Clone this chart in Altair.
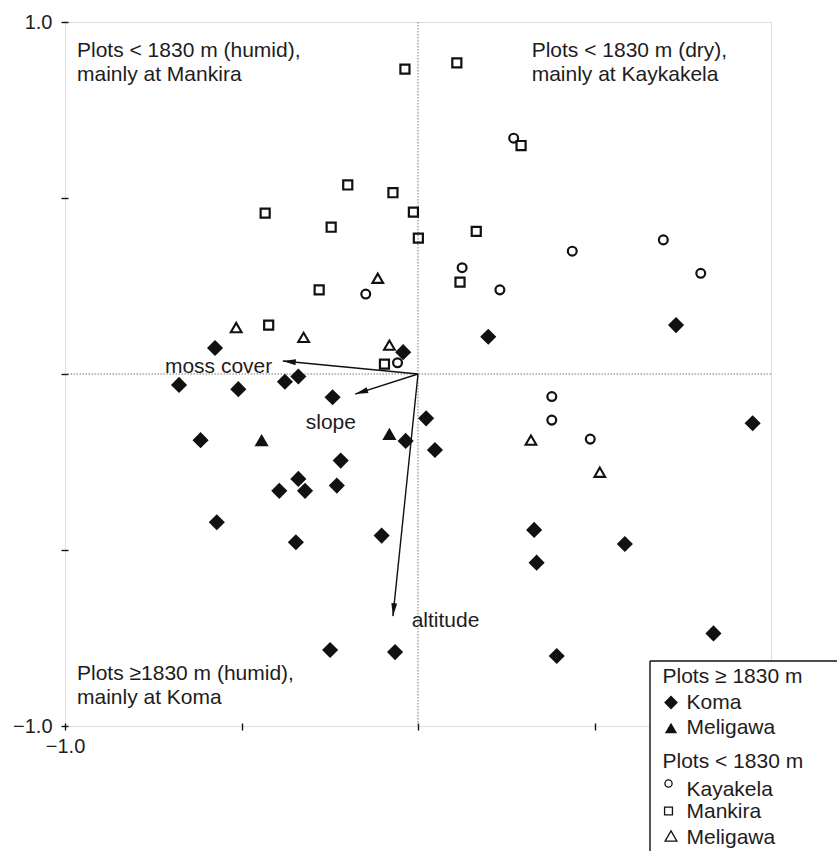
import math
import altair as alt
import pandas as pd

# ---------------- data ----------------
# Plots >= 1830 m : Koma (filled diamonds)
koma_x = [-0.575, -0.042, 0.199, 0.731, -0.677, -0.509, -0.377, -0.339, -0.242, -0.616,
          -0.035, -0.219, -0.339, -0.393, -0.320, -0.230, -0.570, -0.346, -0.103, -0.249,
          -0.065, 0.023, 0.048, 0.948, 0.329, 0.586, 0.336, 0.837, 0.393]
koma_y = [0.074, 0.062, 0.106, 0.139, -0.031, -0.043, -0.022, -0.007, -0.066, -0.188,
          -0.190, -0.246, -0.298, -0.332, -0.332, -0.317, -0.421, -0.478, -0.459, -0.784,
          -0.790, -0.126, -0.216, -0.140, -0.443, -0.483, -0.536, -0.737, -0.801]
# Plots >= 1830 m : Meligawa (filled triangles)
meli_hi_x = [-0.443, -0.081]
meli_hi_y = [-0.188, -0.170]
# Plots < 1830 m : Kayakela (open circles)
kaya_x = [0.271, -0.148, -0.058, 0.125, 0.232, 0.437, 0.695, 0.801, 0.379, 0.379, 0.488]
kaya_y = [0.670, 0.227, 0.032, 0.302, 0.239, 0.349, 0.381, 0.286, -0.064, -0.131, -0.185]
# Plots < 1830 m : Mankira (open squares)
mank_x = [-0.037, 0.110, -0.199, -0.071, -0.013, -0.433, -0.246, 0.001, 0.165, 0.292,
          -0.280, 0.119, -0.423, -0.095]
mank_y = [0.866, 0.884, 0.537, 0.515, 0.460, 0.457, 0.417, 0.386, 0.405, 0.649,
          0.239, 0.261, 0.139, 0.028]
# Plots < 1830 m : Meligawa (open triangles)
meli_lo_x = [-0.114, -0.515, -0.324, -0.081, 0.320, 0.515]
meli_lo_y = [0.272, 0.132, 0.104, 0.082, -0.188, -0.279]

# environmental vectors
vec_names = ["moss cover", "slope", "altitude"]
vec_x = [-0.383, -0.178, -0.071]
vec_y = [0.037, -0.057, -0.688]

# axis ticks
tick_values = [-1.0, -0.5, 0.0, 0.5, 1.0]

# quadrant notes
quad_texts = ["Plots < 1830 m (humid),\nmainly at Mankira",
              "Plots < 1830 m (dry),\nmainly at Kaykakela",
              "Plots \u22651830 m (humid),\nmainly at Koma"]

# legend texts
legend_heads = ["Plots \u2265 1830 m", "Plots < 1830 m"]
legend_items = ["Koma", "Meligawa", "Kayakela", "Mankira", "Meligawa"]

# ---------------- layout / style ----------------
W, H = 706, 704
INK = "#111111"
TXT = "#1e1c1d"
FONT = "Liberation Sans"
FS = 21
AFS = 20

sx = alt.Scale(domain=[-1, 1], nice=False, zero=False)
sy = alt.Scale(domain=[-1, 1], nice=False, zero=False)
ax_x = alt.Axis(values=tick_values, format=".1f",
                labelExpr="datum.value == -1 ? datum.label : ''",
                domain=False, offset=-3, tickSize=7, tickWidth=1.4, tickColor=INK,
                labelFontSize=AFS, labelColor=TXT, labelFont=FONT, labelPadding=6,
                labelFlush=False, labelOverlap=False, grid=False, title=None)
ax_y = alt.Axis(values=tick_values, format=".1f",
                labelExpr="abs(datum.value) == 1 ? datum.label : ''",
                domain=False, offset=-3, tickSize=7, tickWidth=1.4, tickColor=INK,
                labelFontSize=AFS, labelColor=TXT, labelFont=FONT, labelPadding=9,
                labelFlush=False, labelOverlap=False, grid=False, title=None)


def X(field):
    return alt.X(field, type="quantitative", scale=sx, axis=ax_x)


def Y(field):
    return alt.Y(field, type="quantitative", scale=sy, axis=ax_y)


# dotted zero lines
zero_df = pd.DataFrame({"v": [0.0]})
zero_v = alt.Chart(zero_df).mark_rule(color="#777", strokeWidth=1, strokeDash=[1.5, 1.5]).encode(x=X("v"))
zero_h = alt.Chart(zero_df).mark_rule(color="#777", strokeWidth=1, strokeDash=[1.5, 1.5]).encode(y=Y("v"))


def pts(xs, ys, shape, filled, size, sw):
    df = pd.DataFrame({"x": xs, "y": ys})
    return alt.Chart(df).mark_point(shape=shape, filled=filled, size=size, strokeWidth=sw,
                                    color=INK, opacity=1).encode(x=X("x"), y=Y("y"))


layer_mank = pts(mank_x, mank_y, "square", False, 82, 2.2)
layer_kaya = pts(kaya_x, kaya_y, "circle", False, 78, 2.2)
layer_meli_lo = pts(meli_lo_x, meli_lo_y, "triangle-up", False, 115, 2.1)
layer_koma = pts(koma_x, koma_y, "diamond", True, 260, 0)
layer_meli_hi = pts(meli_hi_x, meli_hi_y, "triangle-up", True, 200, 0)

# vectors
vec_df = pd.DataFrame({"name": vec_names, "x": vec_x, "y": vec_y,
                       "x0": [0.0] * len(vec_x), "y0": [0.0] * len(vec_y)})
vec_df["ang"] = [(math.degrees(math.atan2(a * W / 2, b * H / 2)) + 360) % 360
                 for a, b in zip(vec_x, vec_y)]
vec_lines = alt.Chart(vec_df).mark_rule(color=INK, strokeWidth=1.4).encode(
    x=X("x0"), y=Y("y0"), x2="x:Q", y2="y:Q")
arrow_path = "M0,0L0.45,2L-0.45,2Z"
vec_heads = alt.Chart(vec_df).mark_point(shape=arrow_path, filled=True, size=169,
                                         color=INK, opacity=1, strokeWidth=0).encode(
    x=X("x"), y=Y("y"), angle=alt.Angle("ang:Q", scale=None))

# vector labels (placed next to the arrow tips)
lab_pos_x = [-0.717, -0.318, -0.018]
lab_pos_y = [0.003, -0.157, -0.718]
vec_lab_df = pd.DataFrame({"t": vec_names, "x": lab_pos_x, "y": lab_pos_y})
vec_labels = alt.Chart(vec_lab_df).mark_text(align="left", baseline="alphabetic", fontSize=FS,
                                            font=FONT, color=TXT).encode(
    x=X("x"), y=Y("y"), text="t:N")

# quadrant notes
quad_df = pd.DataFrame({"t": quad_texts, "x": [-0.966, 0.322, -0.966], "y": [0.900, 0.900, -0.869]})
quad_labels = alt.Chart(quad_df).mark_text(align="left", baseline="alphabetic", fontSize=FS,
                                          font=FONT, color=TXT, lineBreak="\n",
                                          lineHeight=24).encode(
    x=X("x"), y=Y("y"), text="t:N")

# ---------------- custom legend box (pixel layout) ----------------
one = pd.DataFrame({"a": [0]})
leg_bg = alt.Chart(one).mark_rect(fill="white", strokeWidth=0).encode(
    x=alt.value(585), x2=alt.value(780), y=alt.value(639), y2=alt.value(840))
leg_top = alt.Chart(one).mark_rule(color=INK, strokeWidth=1.4).encode(
    x=alt.value(585), x2=alt.value(780), y=alt.value(639))
leg_left = alt.Chart(one).mark_rule(color=INK, strokeWidth=1.4).encode(
    x=alt.value(585), y=alt.value(639), y2=alt.value(840))

leg_text_layers = []
head_y = [660.5, 745.5]
for t, yy in zip(legend_heads, head_y):
    leg_text_layers.append(
        alt.Chart(pd.DataFrame({"t": [t]})).mark_text(align="left", baseline="alphabetic",
                                                     fontSize=FS, font=FONT, color=TXT).encode(
            x=alt.value(597.5), y=alt.value(yy), text="t:N"))
item_y = [686.5, 711.5, 774, 796, 821.5]
for t, yy in zip(legend_items, item_y):
    leg_text_layers.append(
        alt.Chart(pd.DataFrame({"t": [t]})).mark_text(align="left", baseline="alphabetic",
                                                     fontSize=FS, font=FONT, color=TXT).encode(
            x=alt.value(621.5), y=alt.value(yy), text="t:N"))

leg_sym_specs = [
    ("diamond", True, 190, 0, 606, 680.5),
    ("triangle-up", True, 150, 0, 606, 706),
    ("circle", False, 52, 1.3, 603.5, 761.5),
    ("square", False, 62, 1.3, 603.5, 789),
    ("triangle-up", False, 140, 1.3, 606, 814),
]
leg_sym_layers = []
for shp, fil, sz, sw, xx, yy in leg_sym_specs:
    leg_sym_layers.append(
        alt.Chart(one).mark_point(shape=shp, filled=fil, size=sz, strokeWidth=sw, color=INK,
                                  opacity=1).encode(x=alt.value(xx), y=alt.value(yy)))

chart = alt.layer(
    zero_v, zero_h,
    vec_lines, vec_heads,
    layer_mank, layer_kaya, layer_meli_lo, layer_koma, layer_meli_hi,
    vec_labels, quad_labels,
    leg_bg, leg_top, leg_left, *leg_text_layers, *leg_sym_layers,
).properties(
    width=W, height=H,
    autosize=alt.AutoSizeParams(type="none"),
    padding={"left": 65, "top": 22, "right": 66, "bottom": 125},
    background="white",
).configure_view(
    stroke=INK, strokeWidth=1.5
).configure(
    font=FONT
)

chart.save("out.html", embed_options={"renderer": "svg", "actions": False})
